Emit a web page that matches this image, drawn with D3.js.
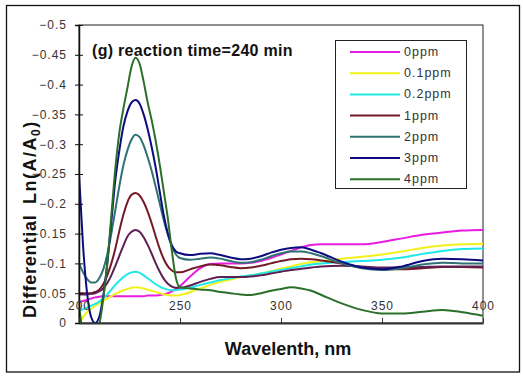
<!DOCTYPE html>
<html><head><meta charset="utf-8">
<script src="https://cdn.jsdelivr.net/npm/d3@7"></script>
<style>body{margin:0;background:#fff}svg{display:block;font-family:"Liberation Sans",Arial,sans-serif}</style>
</head><body><svg id="c" width="523" height="376"></svg>
<script>
const wavelength = [200,202,204,206,208,210,212,214,216,218,220,222,224,226,228,230,232,234,236,238,240,242,244,246,248,250,255,260,265,270,275,280,285,290,295,300,305,310,315,320,330,340,350,360,370,380,390,400];
const ppm0  = [-0.035,-0.037,-0.039,-0.041,-0.043,-0.044,-0.045,-0.045,-0.045,-0.045,-0.045,-0.045,-0.045,-0.045,-0.045,-0.045,-0.045,-0.046,-0.046,-0.046,-0.047,-0.048,-0.05,-0.053,-0.057,-0.062,-0.078,-0.092,-0.099,-0.1,-0.1,-0.1,-0.101,-0.104,-0.109,-0.115,-0.121,-0.127,-0.131,-0.132,-0.132,-0.132,-0.136,-0.142,-0.148,-0.152,-0.155,-0.156];
const ppm01 = [0,-0.01,-0.018,-0.024,-0.029,-0.033,-0.037,-0.041,-0.045,-0.049,-0.052,-0.055,-0.057,-0.059,-0.06,-0.059,-0.058,-0.056,-0.054,-0.052,-0.05,-0.048,-0.047,-0.046,-0.046,-0.047,-0.052,-0.058,-0.064,-0.069,-0.073,-0.077,-0.08,-0.083,-0.087,-0.091,-0.095,-0.099,-0.102,-0.104,-0.108,-0.111,-0.115,-0.12,-0.126,-0.13,-0.132,-0.133];
const ppm02 = [-0.02,-0.023,-0.026,-0.029,-0.032,-0.036,-0.041,-0.048,-0.056,-0.064,-0.071,-0.077,-0.082,-0.085,-0.086,-0.084,-0.08,-0.075,-0.07,-0.065,-0.061,-0.058,-0.056,-0.055,-0.055,-0.056,-0.059,-0.064,-0.068,-0.072,-0.075,-0.078,-0.08,-0.083,-0.086,-0.089,-0.092,-0.095,-0.098,-0.1,-0.102,-0.104,-0.106,-0.11,-0.116,-0.121,-0.124,-0.125];
const ppm1  = [-0.05,-0.05,-0.05,-0.05,-0.052,-0.056,-0.065,-0.08,-0.1,-0.125,-0.155,-0.182,-0.203,-0.215,-0.218,-0.214,-0.203,-0.187,-0.167,-0.145,-0.124,-0.107,-0.095,-0.088,-0.085,-0.085,-0.09,-0.095,-0.098,-0.097,-0.094,-0.092,-0.093,-0.096,-0.1,-0.104,-0.107,-0.108,-0.107,-0.105,-0.1,-0.094,-0.09,-0.09,-0.092,-0.094,-0.094,-0.093];
const unlabeled = [-0.048,-0.048,-0.048,-0.049,-0.05,-0.053,-0.058,-0.067,-0.08,-0.096,-0.113,-0.13,-0.145,-0.153,-0.156,-0.153,-0.144,-0.131,-0.116,-0.1,-0.086,-0.074,-0.066,-0.061,-0.059,-0.059,-0.063,-0.069,-0.074,-0.077,-0.077,-0.077,-0.078,-0.08,-0.083,-0.086,-0.089,-0.091,-0.093,-0.095,-0.096,-0.095,-0.093,-0.093,-0.094,-0.095,-0.095,-0.095];
const ppm2  = [-0.1,-0.085,-0.074,-0.068,-0.068,-0.075,-0.09,-0.115,-0.15,-0.19,-0.23,-0.265,-0.29,-0.308,-0.316,-0.312,-0.298,-0.278,-0.255,-0.228,-0.2,-0.172,-0.148,-0.128,-0.115,-0.109,-0.106,-0.108,-0.11,-0.108,-0.104,-0.101,-0.102,-0.106,-0.112,-0.117,-0.12,-0.12,-0.117,-0.112,-0.1,-0.092,-0.089,-0.092,-0.098,-0.101,-0.1,-0.1];
const ppm3  = [-0.25,-0.13,-0.05,-0.01,0,-0.01,-0.045,-0.1,-0.17,-0.24,-0.29,-0.33,-0.355,-0.37,-0.374,-0.368,-0.35,-0.325,-0.295,-0.26,-0.22,-0.18,-0.15,-0.13,-0.12,-0.117,-0.114,-0.116,-0.117,-0.114,-0.11,-0.107,-0.108,-0.112,-0.118,-0.123,-0.126,-0.127,-0.123,-0.117,-0.103,-0.093,-0.09,-0.095,-0.104,-0.108,-0.107,-0.105];
const ppm4  = [-0.03,0.02,0.04,0.045,0.035,0.005,-0.04,-0.1,-0.18,-0.26,-0.32,-0.36,-0.395,-0.43,-0.445,-0.435,-0.405,-0.37,-0.34,-0.305,-0.265,-0.22,-0.175,-0.12,-0.075,-0.06,-0.058,-0.056,-0.055,-0.052,-0.05,-0.048,-0.047,-0.05,-0.054,-0.057,-0.06,-0.058,-0.054,-0.047,-0.033,-0.022,-0.016,-0.016,-0.019,-0.022,-0.018,-0.012];
const seriesNames = ["0ppm","0.1ppm","0.2ppm","1ppm","","2ppm","3ppm","4ppm"];
const seriesValues = [ppm0, ppm01, ppm02, ppm1, unlabeled, ppm2, ppm3, ppm4];
const seriesColors = ["#e81ce0","#f2f21a","#1ee8e8","#741a26","#5e1f52","#2f7272","#0c0c80","#2a702a"];
const legendNames = ["0ppm","0.1ppm","0.2ppm","1ppm","2ppm","3ppm","4ppm"];
const legendColors = ["#e81ce0","#f2f21a","#1ee8e8","#741a26","#2f7272","#0c0c80","#2a702a"];
const yTicks = [0,-0.05,-0.1,-0.15,-0.2,-0.25,-0.3,-0.35,-0.4,-0.45,-0.5];
const xTicks = [200,250,300,350,400];

const svg = d3.select("#c");
const L=79,R=483,T=25,B=323;
const x = d3.scaleLinear().domain([200,400]).range([L,R]);
const y = d3.scaleLinear().domain([0,-0.5]).range([B,T]);

svg.append("rect").attr("x",6.5).attr("y",5.5).attr("width",513).attr("height",366.5)
  .attr("fill","#fff").attr("stroke","#111").attr("stroke-width",1.3);

svg.append("clipPath").attr("id","pc").append("rect").attr("x",L).attr("y",T).attr("width",R-L).attr("height",B-T);

svg.append("rect").attr("x",L).attr("y",T).attr("width",R-L).attr("height",B-T)
  .attr("fill","none").attr("stroke","#222").attr("stroke-width",1);

const line = d3.line().x((d,i)=>x(wavelength[i])).y(d=>y(d)).curve(d3.curveMonotoneX);
const g = svg.append("g").attr("clip-path","url(#pc)");
seriesValues.forEach((vals,k)=>{
  g.append("path").datum(vals).attr("d",line).attr("fill","none")
   .attr("stroke",seriesColors[k]).attr("stroke-width",2).attr("stroke-linejoin","round");
});

const ya = svg.append("g").attr("transform",`translate(${L},0)`)
  .call(d3.axisLeft(y).tickValues(yTicks).tickSize(4).tickPadding(8).tickFormat(d=>d===0?"0":d3.format("")(+d.toFixed(2))));
ya.select(".domain").attr("stroke","#111").attr("stroke-width",1.5);
ya.selectAll(".tick line").attr("x1",-4).attr("x2",4).attr("stroke","#111");
ya.selectAll("text").attr("font-size",12).attr("letter-spacing",1).attr("fill","#333").attr("font-family","Liberation Sans, Arial, sans-serif");

const xa = svg.append("g").attr("transform",`translate(0,${B})`)
  .call(d3.axisBottom(x).tickValues(xTicks).tickSize(0).tickFormat(d3.format("d")));
xa.select(".domain").attr("stroke","#333").attr("stroke-width",1.8);
xa.selectAll(".tick line").attr("y1",0).attr("y2",-5).attr("stroke","#333");
xa.selectAll("text").attr("font-size",12).attr("letter-spacing",1).attr("fill","#333").attr("y",-13).attr("dy",0)
  .attr("font-family","Liberation Sans, Arial, sans-serif");

svg.append("text").attr("x",92).attr("y",56).attr("font-size",16).attr("letter-spacing",0.3).attr("font-weight","bold").attr("fill","#111")
  .text("(g) reaction time=240 min");

svg.append("text").attr("x",288).attr("y",355).attr("text-anchor","middle").attr("font-size",18)
  .attr("font-weight","bold").attr("fill","#111").text("Wavelenth, nm");

// y label in two parts
svg.append("text").attr("transform","translate(36,318) rotate(-90)")
  .attr("font-size",18).attr("font-weight","bold").attr("fill","#111").attr("letter-spacing",0.8).text("Differential");
const yl = svg.append("text").attr("transform","translate(36,204) rotate(-90)")
  .attr("font-size",18).attr("font-weight","bold").attr("fill","#111").attr("letter-spacing",1.5);
yl.append("tspan").text("Ln(A/A");
yl.append("tspan").attr("font-size",12).attr("dy",4).text("0");
yl.append("tspan").attr("dy",-4).text(")");

const lg = svg.append("g");
lg.append("rect").attr("x",335.5).attr("y",40.5).attr("width",131).attr("height",148)
  .attr("fill","#fff").attr("stroke","#222").attr("stroke-width",1);
legendNames.forEach((n,i)=>{
  const cy = 52 + i*21.2;
  lg.append("line").attr("x1",350).attr("x2",400).attr("y1",cy).attr("y2",cy)
    .attr("stroke",legendColors[i]).attr("stroke-width",2);
  lg.append("text").attr("x",404).attr("y",cy+4).attr("font-size",12.5).attr("letter-spacing",1).attr("fill","#333").text(n);
});
</script></body></html>
